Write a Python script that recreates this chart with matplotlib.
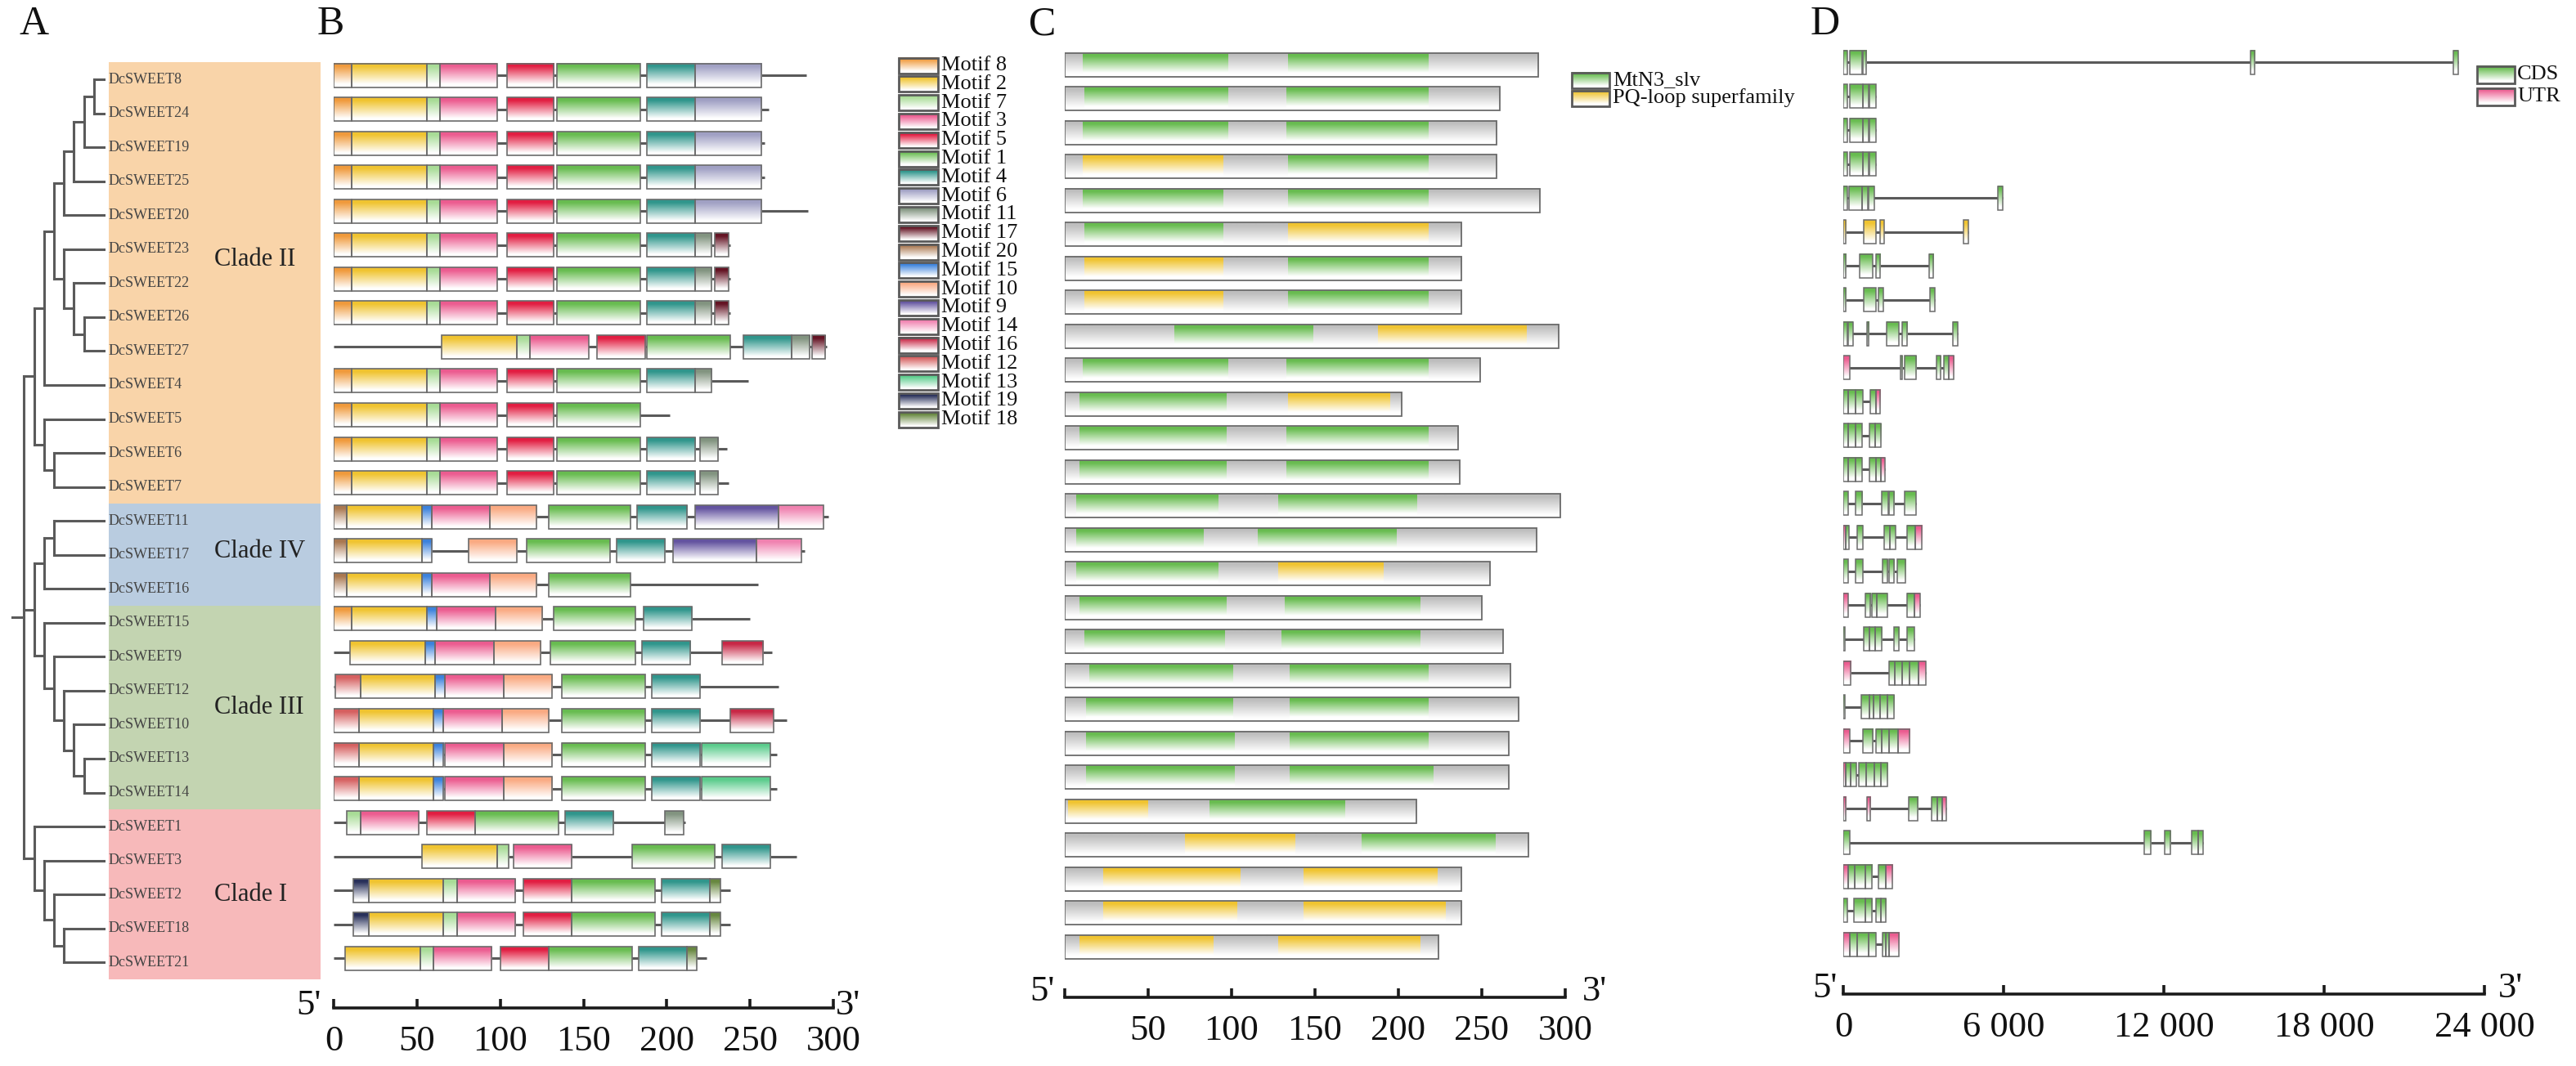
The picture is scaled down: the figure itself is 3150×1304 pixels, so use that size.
import numpy as np
import matplotlib
matplotlib.use('Agg')
import matplotlib.pyplot as plt
from matplotlib.colors import to_rgb
from matplotlib.patches import Rectangle

plt.rcParams['font.family'] = ['Liberation Serif', 'DejaVu Serif']

# ---------------- data ----------------
genes = ['DcSWEET8', 'DcSWEET24', 'DcSWEET19', 'DcSWEET25', 'DcSWEET20', 'DcSWEET23',
         'DcSWEET22', 'DcSWEET26', 'DcSWEET27', 'DcSWEET4', 'DcSWEET5', 'DcSWEET6',
         'DcSWEET7', 'DcSWEET11', 'DcSWEET17', 'DcSWEET16', 'DcSWEET15', 'DcSWEET9',
         'DcSWEET12', 'DcSWEET10', 'DcSWEET13', 'DcSWEET14', 'DcSWEET1', 'DcSWEET3',
         'DcSWEET2', 'DcSWEET18', 'DcSWEET21']

prot_len = [284, 261, 259, 259, 285, 238, 238, 238, 296, 249, 202, 236, 237,
            297, 283, 255, 250, 263, 267, 272, 266, 266, 211, 278, 238, 238, 224]

# clade name, first gene, last gene, background colour
clades = [('Clade II', 'DcSWEET8', 'DcSWEET7', '#F9D4A9'),
          ('Clade IV', 'DcSWEET11', 'DcSWEET16', '#B9CCE0'),
          ('Clade III', 'DcSWEET15', 'DcSWEET14', '#C3D4B1'),
          ('Clade I', 'DcSWEET1', 'DcSWEET21', '#F7B9BA')]
clade_label_row = [5.3, 13.9, 18.5, 24.0]

# tree: (node level, children)
tree = (8, [
    (7, [(6, [(5, [(4, [(3, [(2, [(1, ['DcSWEET8', 'DcSWEET24']), 'DcSWEET19']), 'DcSWEET25']), 'DcSWEET20']),
                   (4, ['DcSWEET23', (3, ['DcSWEET22', (2, ['DcSWEET26', 'DcSWEET27'])])])]),
              'DcSWEET4']),
         (6, ['DcSWEET5', (5, ['DcSWEET6', 'DcSWEET7'])])]),
    (7, [(6, [(5, ['DcSWEET11', 'DcSWEET17']), 'DcSWEET16']),
         (6, ['DcSWEET15', (5, ['DcSWEET9', (4, ['DcSWEET12', (3, ['DcSWEET10', (2, ['DcSWEET13', 'DcSWEET14'])])])])])]),
    (7, ['DcSWEET1', (6, ['DcSWEET3', (5, ['DcSWEET2', (4, ['DcSWEET18', 'DcSWEET21'])])])]),
])

motif_order = [8, 2, 7, 3, 5, 1, 4, 6, 11, 17, 20, 15, 10, 9, 14, 16, 12, 13, 19, 18]
motif_colors = {8: '#F09A3C', 2: '#F0C430', 7: '#A8DC96', 3: '#EC5C90', 5: '#E21E42',
                1: '#68BC50', 4: '#30968C', 6: '#A0A0C4', 11: '#829480', 17: '#641424',
                20: '#AA7850', 15: '#3C82DC', 10: '#FAAA82', 9: '#6454A0', 14: '#F082B0',
                16: '#C82846', 12: '#D66060', 13: '#5ACC8C', 19: '#28305A', 18: '#688840'}

std2 = [(8, 0, 11), (2, 11, 56), (7, 56, 64), (3, 64, 98), (5, 104, 132), (1, 134, 184), (4, 188, 217)]
motif_hits = [
    std2 + [(6, 217, 257)],
    std2 + [(6, 217, 257)],
    std2 + [(6, 217, 257)],
    std2 + [(6, 217, 257)],
    std2 + [(6, 217, 257)],
    std2 + [(11, 217, 227), (17, 229, 237)],
    std2 + [(11, 217, 227), (17, 229, 237)],
    std2 + [(11, 217, 227), (17, 229, 237)],
    [(2, 65, 110), (7, 110, 118), (3, 118, 153), (5, 158, 187), (1, 188, 238), (4, 246, 275), (11, 275, 286), (17, 287, 295)],
    std2 + [(11, 217, 227)],
    std2[:6],
    std2 + [(11, 220, 231)],
    std2 + [(11, 220, 231)],
    [(20, 0, 8), (2, 8, 53), (15, 53, 59), (3, 59, 94), (10, 94, 122), (1, 129, 178), (4, 182, 212), (9, 217, 267), (14, 267, 294)],
    [(20, 0, 8), (2, 8, 53), (15, 53, 59), (10, 81, 110), (1, 116, 166), (4, 170, 199), (9, 204, 254), (14, 254, 281)],
    [(20, 0, 8), (2, 8, 53), (15, 53, 59), (3, 59, 94), (10, 94, 122), (1, 129, 178)],
    [(8, 0, 11), (2, 11, 56), (15, 56, 62), (3, 62, 97), (10, 97, 125), (1, 132, 181), (4, 186, 215)],
    [(2, 10, 55), (15, 55, 61), (3, 61, 96), (10, 96, 124), (1, 130, 181), (4, 185, 214), (16, 233, 258)],
    [(12, 1, 16), (2, 16, 61), (15, 61, 67), (3, 67, 102), (10, 102, 131), (1, 137, 187), (4, 191, 220)],
    [(12, 0, 15), (2, 15, 60), (15, 60, 66), (3, 66, 101), (10, 101, 129), (1, 137, 187), (4, 191, 220), (16, 238, 264)],
    [(12, 0, 15), (2, 15, 60), (15, 60, 66), (3, 67, 102), (10, 102, 131), (1, 137, 187), (4, 191, 220), (13, 221, 262)],
    [(12, 0, 15), (2, 15, 60), (15, 60, 66), (3, 67, 102), (10, 102, 131), (1, 137, 187), (4, 191, 220), (13, 221, 262)],
    [(7, 8, 16), (3, 16, 51), (5, 56, 85), (1, 85, 135), (4, 139, 168), (11, 199, 210)],
    [(2, 53, 98), (7, 98, 105), (3, 108, 143), (1, 179, 229), (4, 233, 262)],
    [(19, 12, 21), (2, 21, 66), (7, 66, 74), (3, 74, 109), (5, 114, 143), (1, 143, 193), (4, 197, 226), (18, 226, 232)],
    [(19, 12, 21), (2, 21, 66), (7, 66, 74), (3, 74, 109), (5, 114, 143), (1, 143, 193), (4, 197, 226), (18, 226, 232)],
    [(2, 7, 52), (7, 52, 60), (3, 60, 95), (5, 100, 129), (1, 129, 179), (4, 183, 212), (18, 212, 218)],
]

# conserved domains (G = MtN3_slv, Y = PQ-loop superfamily)
domain_names = ['MtN3_slv', 'PQ-loop superfamily']
domain_colors = {'G': '#68BC50', 'Y': '#F0C430'}
domain_hits = [
    [('G', 11, 98), ('G', 134, 218)], [('G', 12, 98), ('G', 133, 218)], [('G', 11, 98), ('G', 133, 218)],
    [('Y', 11, 95), ('G', 134, 218)], [('G', 11, 95), ('G', 134, 218)], [('G', 12, 95), ('Y', 134, 218)],
    [('Y', 12, 95), ('G', 134, 218)], [('Y', 12, 95), ('G', 134, 218)], [('G', 66, 149), ('Y', 188, 277)],
    [('G', 11, 98), ('G', 133, 218)], [('G', 9, 97), ('Y', 134, 195)], [('G', 9, 97), ('G', 133, 218)],
    [('G', 9, 97), ('G', 133, 218)], [('G', 7, 92), ('G', 128, 211)], [('G', 7, 83), ('G', 116, 199)],
    [('G', 7, 92), ('Y', 128, 191)], [('G', 9, 97), ('G', 132, 213)], [('G', 12, 96), ('G', 130, 213)],
    [('G', 15, 101), ('G', 135, 218)], [('G', 13, 101), ('G', 135, 218)], [('G', 13, 102), ('G', 135, 218)],
    [('G', 13, 102), ('G', 135, 221)], [('Y', 2, 50), ('G', 87, 168)], [('Y', 72, 138), ('G', 178, 258)],
    [('Y', 23, 105), ('Y', 143, 223)], [('Y', 23, 103), ('Y', 143, 228)], [('Y', 9, 89), ('Y', 128, 213)],
]

# gene structure in bp (C = CDS, U = UTR, Y = CDS shown in yellow)
exon_colors = {'C': '#68BC50', 'U': '#EC5C90', 'Y': '#F0C430'}
exons = [
    [('C', 0, 150), ('C', 230, 690), ('C', 730, 870), ('C', 15230, 15410), ('C', 22850, 23030)],
    [('C', 0, 140), ('C', 230, 720), ('C', 740, 960), ('C', 970, 1210)],
    [('C', 0, 140), ('C', 230, 720), ('C', 740, 960), ('C', 970, 1210)],
    [('C', 0, 140), ('C', 230, 720), ('C', 740, 960), ('C', 970, 1210)],
    [('C', 0, 140), ('C', 200, 690), ('C', 700, 930), ('C', 940, 1150), ('C', 5780, 5960)],
    [('Y', 0, 100), ('Y', 780, 1210), ('Y', 1370, 1520), ('Y', 4490, 4670)],
    [('C', 0, 100), ('C', 625, 1090), ('C', 1210, 1390), ('C', 3200, 3380)],
    [('C', 0, 100), ('C', 780, 1230), ('C', 1330, 1500), ('C', 3260, 3440)],
    [('C', 0, 160), ('C', 195, 370), ('C', 880, 960), ('C', 1620, 2070), ('C', 2190, 2400), ('C', 4100, 4280)],
    [('U', 0, 235), ('C', 2130, 2210), ('C', 2285, 2715), ('C', 3480, 3650), ('C', 3750, 3950), ('U', 3950, 4140)],
    [('C', 0, 180), ('C', 180, 460), ('C', 460, 720), ('C', 1015, 1210), ('U', 1210, 1370)],
    [('C', 0, 180), ('C', 180, 450), ('C', 450, 690), ('C', 980, 1190), ('C', 1190, 1420)],
    [('C', 0, 180), ('C', 180, 450), ('C', 450, 690), ('C', 980, 1210), ('C', 1210, 1400), ('U', 1400, 1550)],
    [('C', 0, 175), ('C', 450, 700), ('C', 1445, 1680), ('C', 1700, 1890), ('C', 2300, 2710)],
    [('U', 0, 90), ('C', 100, 220), ('C', 510, 720), ('C', 1540, 1750), ('C', 1760, 1970), ('C', 2400, 2700), ('U', 2700, 2950)],
    [('C', 0, 175), ('C', 450, 720), ('C', 1465, 1660), ('C', 1720, 1910), ('C', 2030, 2340)],
    [('U', 0, 175), ('C', 820, 1015), ('C', 1075, 1270), ('C', 1270, 1660), ('C', 2380, 2675), ('U', 2675, 2870)],
    [('C', 0, 60), ('C', 780, 975), ('C', 975, 1200), ('C', 1200, 1450), ('C', 1900, 2090), ('C', 2400, 2675)],
    [('U', 0, 290), ('C', 1700, 1930), ('C', 1930, 2190), ('C', 2190, 2480), ('C', 2480, 2830), ('U', 2830, 3100)],
    [('C', 0, 60), ('C', 680, 975), ('C', 975, 1130), ('C', 1130, 1390), ('C', 1390, 1640), ('C', 1640, 1890)],
    [('U', 0, 235), ('C', 720, 1110), ('C', 1210, 1445), ('C', 1445, 1700), ('C', 1700, 2050), ('U', 2050, 2480)],
    [('U', 0, 100), ('C', 100, 290), ('C', 290, 490), ('C', 590, 860), ('C', 860, 1150), ('C', 1150, 1400), ('C', 1400, 1660)],
    [('U', 0, 100), ('U', 880, 1015), ('C', 2440, 2790), ('C', 3300, 3515), ('C', 3515, 3700), ('U', 3700, 3850)],
    [('C', 0, 235), ('C', 11270, 11520), ('C', 12030, 12245), ('C', 13045, 13280), ('C', 13280, 13455)],
    [('U', 0, 175), ('C', 175, 430), ('C', 430, 820), ('C', 820, 1070), ('C', 1310, 1600), ('U', 1600, 1850)],
    [('C', 0, 140), ('C', 390, 820), ('C', 820, 1070), ('C', 1210, 1400), ('C', 1400, 1600)],
    [('U', 0, 235), ('C', 235, 530), ('C', 530, 960), ('C', 960, 1210), ('C', 1465, 1600), ('C', 1600, 1700), ('U', 1700, 2090)],
]

b_ticks = [0, 50, 100, 150, 200, 250, 300]
c_ticks = [0, 50, 100, 150, 200, 250, 300]
c_ticklabels = ['', '50', '100', '150', '200', '250', '300']
d_ticks = [0, 6000, 12000, 18000, 24000]
d_ticklabels = ['0', '6 000', '12 000', '18 000', '24 000']

# ---------------- drawing ----------------
W, H = 3150, 1304
LINE = '#5a5a5a'
EDGE = '#6b6b6b'
fig = plt.figure(figsize=(W / 100, H / 100), dpi=100)

ax0 = fig.add_axes([0, 0, 1, 1])
ax0.axis('off')


def fade(ax, x0, x1, yc, h, color, edge=EDGE, lw=1.2, z=3):
    rgb = np.array(to_rgb(color))
    t = np.linspace(0, 1, 40)
    m = np.clip((t - 0.12) / 0.78, 0, 1)[:, None]
    img = rgb * (1 - m) + m
    ax.imshow(img[:, None, :], extent=(x0, x1, yc + h / 2, yc - h / 2), aspect='auto',
              interpolation='bilinear', zorder=z)
    if edge:
        ax.add_patch(Rectangle((x0, yc - h / 2), x1 - x0, h, fill=False, ec=edge, lw=lw, zorder=z + 0.5))


def tree_y(i):
    return 97 + 41.55 * i


TIP_X, STEP = 127, 12.2


def draw_node(node):
    if isinstance(node, str):
        return TIP_X, tree_y(genes.index(node))
    level, kids = node
    x = TIP_X - STEP * level
    ys = []
    for k in kids:
        kx, ky = draw_node(k)
        ax0.plot([x, kx], [ky, ky], color=LINE, lw=2.2, solid_capstyle='projecting')
        ys.append(ky)
    ax0.plot([x, x], [min(ys), max(ys)], color=LINE, lw=2.2, solid_capstyle='projecting')
    return x, (min(ys) + max(ys)) / 2


rx, ry = draw_node(tree)
ax0.plot([TIP_X - STEP * 9.2, rx], [ry, ry], color=LINE, lw=2.2)

# clade boxes
for (name, g0, g1, col), lr in zip(clades, clade_label_row):
    y0 = tree_y(genes.index(g0) - 0.5)
    y1 = tree_y(genes.index(g1) + 0.5)
    ax0.add_patch(Rectangle((133, y0), 259, y1 - y0, fc=col, ec='none', zorder=1))
    ax0.text(262, tree_y(lr), name, fontsize=22, va='center', ha='left', color='#222222', zorder=3)

for i, g in enumerate(genes):
    ax0.text(133, tree_y(i), g, fontsize=13, va='center', ha='left', color='#444444', zorder=3)

# panel letters
for lab, x in zip('ABCD', [23, 388, 1258, 2214]):
    ax0.text(x, 30, lab, fontsize=36, va='center', ha='left', color='#111111')

# motif legend
for i, m in enumerate(motif_order):
    y = 80 + 22.8 * i
    fade(ax0, 1099, 1147, y, 19, motif_colors[m], edge='#5a5a5a', lw=2.0)
    ax0.text(1151, y, 'Motif %d' % m, fontsize=19, va='center', ha='left', color='#111111')

# domain legend
for i, (key, name) in enumerate(zip(['G', 'Y'], domain_names)):
    y = 98 + 22 * i
    fade(ax0, 1922, 1968, y, 19, domain_colors[key], edge='#5a5a5a', lw=2.0)
    ax0.text(1972, y, name, fontsize=19, va='center', ha='left', color='#111111')

# gene structure legend
for i, (key, name) in enumerate([('C', 'CDS'), ('U', 'UTR')]):
    y = 91 + 27 * i
    fade(ax0, 3029, 3075, y, 21, exon_colors[key], edge='#5a5a5a', lw=2.0)
    ax0.text(3078, y, name, fontsize=19, va='center', ha='left', color='#111111')

# 5' / 3' labels
for x5, x3, yb in [(377, 1037, 1241), (1274, 1950, 1224), (2231, 3070, 1220)]:
    ax0.text(x5, yb, "5'", fontsize=32, ha='center', va='baseline', color='#111111')
    ax0.text(x3, yb, "3'", fontsize=32, ha='center', va='baseline', color='#111111')

ax0.set_xlim(0, W)
ax0.set_ylim(H, 0)


def panel(x0, x1, axis_y, xmax, ticks, labels):
    ax = fig.add_axes([x0 / W, (H - axis_y) / H, (x1 - x0) / W, axis_y / H])
    ax.patch.set_alpha(0)
    for s in ['left', 'right', 'top']:
        ax.spines[s].set_visible(False)
    ax.spines['bottom'].set_linewidth(2.6)
    ax.spines['bottom'].set_color('#1a1a1a')
    ax.set_yticks([])
    ax.set_xticks(ticks)
    ax.set_xticklabels(labels)
    ax.tick_params(axis='x', direction='in', length=8, width=2.6, color='#1a1a1a',
                   labelsize=32, pad=15, labelcolor='#111111')
    return ax


# B: motifs
axB = panel(408, 1019, 1233, 300, b_ticks, [str(t) for t in b_ticks])
for i, (L, hits) in enumerate(zip(prot_len, motif_hits)):
    y = 92 + 41.55 * i
    axB.plot([0, L], [y, y], color=LINE, lw=2.2, zorder=2, solid_capstyle='butt')
    for m, s, e in hits:
        fade(axB, s, e, y, 29, motif_colors[m])
axB.set_xlim(0, 300)
axB.set_ylim(1233, 0)

# C: domains
axC = panel(1301.6, 1914, 1220, 300, c_ticks, c_ticklabels)
for i, (L, hits) in enumerate(zip(prot_len, domain_hits)):
    y = 79 + 41.5 * i
    fade(axC, 0, L, y, 29, '#BEBEBE', edge=None)
    for key, s, e in hits:
        fade(axC, s, e, y - 0.5, 27, domain_colors[key], edge=None, z=4)
    axC.add_patch(Rectangle((0, y - 14.5), L, 29, fill=False, ec=EDGE, lw=1.3, zorder=5))
axC.set_xlim(0, 300)
axC.set_ylim(1220, 0)

# D: gene structure
axD = panel(2254, 3038, 1216, 24000, d_ticks, d_ticklabels)
for i, ex in enumerate(exons):
    y = 76 + 41.5 * i
    end = max(e for _, _, e in ex)
    axD.plot([0, end], [y, y], color=LINE, lw=2.2, zorder=2, solid_capstyle='butt')
    for key, s, e in ex:
        fade(axD, s, e, y, 29, exon_colors[key], lw=1.1)
axD.set_xlim(0, 24000)
axD.set_ylim(1216, 0)

fig.savefig('out.png', dpi=100)
